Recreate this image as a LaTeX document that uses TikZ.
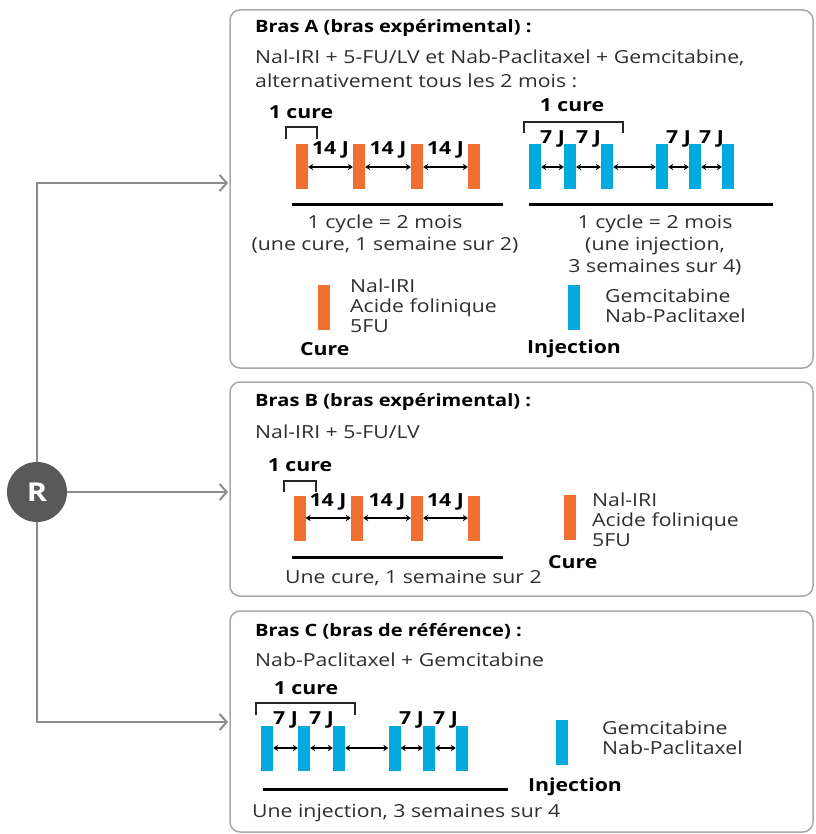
\documentclass[tikz,border=0pt]{standalone}
\usepackage{fontspec}
\setmainfont{Open Sans}[FakeStretch=1.18]
\usetikzlibrary{arrows.meta}
\definecolor{cureor}{HTML}{EF7030}
\definecolor{injbl}{HTML}{00A9DE}
\definecolor{boxgr}{HTML}{A8A8A8}
\definecolor{lingr}{HTML}{8C8C8C}
\definecolor{txtgr}{HTML}{2E2E2E}
\definecolor{rgr}{HTML}{595959}
\tikzset{
  bold/.style={text=black, font=\fontsize{18}{22}\selectfont\bfseries},
  armtitle/.style={bold, anchor=west, font=\fontsize{17}{22}\selectfont\bfseries},
  curebar/.style={fill=cureor, minimum width=12pt, minimum height=45pt},
  injbar/.style={fill=injbl, minimum width=12pt, minimum height=45pt},
  gap/.style={{Stealth[length=5pt,width=6.5pt]}-{Stealth[length=5pt,width=6.5pt]}, line width=1.6pt, black},
  bracket/.style={line width=1.6pt, black!85},
  cycleline/.style={line width=3pt, black},
  armbox/.style={draw=boxgr, line width=1.5pt, rounded corners=10pt},
  branch/.style={draw=lingr, line width=2pt, -{Straight Barb[length=7pt,width=16pt]}},
  legend/.style={align=left, anchor=west, font=\fontsize{18}{20}\selectfont}
}
\begin{document}
\begin{tikzpicture}[x=1pt,y=1pt]
\tikzstyle{every node}+=[inner sep=0pt, text=txtgr, font=\fontsize{18}{22}\selectfont]
\useasboundingbox (0,0) rectangle (815,-834);
% boxes
\draw [armbox] (230,-10) rectangle (813,-368);
\draw [armbox] (230,-382) rectangle (813,-596);
\draw [armbox] (230,-611) rectangle (813,-832);
% randomisation
\node [circle, fill=rgr, minimum size=60pt, text=white, font=\fontsize{26}{26}\selectfont\bfseries] (R) at (37,-492) {R};
\coordinate (toA) at (228,-183);
\coordinate (toB) at (228,-492);
\coordinate (toC) at (228,-722);
\draw [branch] (R.north) |- (toA);
\draw [branch] (R.east) -- (toB);
\draw [branch] (R.south) |- (toC);
% bras A
\node [armtitle] (titA) at (255,-28) {Bras A (bras expérimental) :};
\node [anchor=west] (subA1) at (255,-58) {Nal-IRI + 5-FU/LV et Nab-Paclitaxel + Gemcitabine,};
\node [anchor=west] (subA2) at (255,-81) {alternativement tous les 2 mois :};
\node [bold] (cureA1) at (301,-112) {1 cure};
\draw [bracket] (286,-139) -- (286,-127) -- (317,-127) -- (317,-139);
\node [curebar] (a1) at (302,-167) {};
\node [curebar] (a2) at (359,-167) {};
\node [curebar] (a3) at (417,-167) {};
\node [curebar] (a4) at (474,-167) {};
\draw [gap] (a1) -- (a2);
\draw [gap] (a2) -- (a3);
\draw [gap] (a3) -- (a4);
\node [bold] (ja1) at (330.5,-150) {14 J};
\node [bold] (ja2) at (388,-150) {14 J};
\node [bold] (ja3) at (445.5,-150) {14 J};
\draw [cycleline] (292,-205) -- (503,-205);
\node [align=center] (cycA1) at (385,-234) {1 cycle = 2 mois\\(une cure, 1 semaine sur 2)};
\node [bold] (cureA2) at (572,-105) {1 cure};
\draw [bracket] (524,-133) -- (524,-122) -- (623,-122) -- (623,-133);
\node [injbar] (b1) at (535,-167) {};
\node [injbar] (b2) at (570,-167) {};
\node [injbar] (b3) at (607,-167) {};
\node [injbar] (b4) at (662,-167) {};
\node [injbar] (b5) at (695,-167) {};
\node [injbar] (b6) at (728,-167) {};
\draw [gap] (b1) -- (b2);
\draw [gap] (b2) -- (b3);
\draw [gap] (b3) -- (b4);
\draw [gap] (b4) -- (b5);
\draw [gap] (b5) -- (b6);
\node [bold] (jb1) at (552.5,-139) {7 J};
\node [bold] (jb2) at (588.5,-139) {7 J};
\node [bold] (jb3) at (678.5,-139) {7 J};
\node [bold] (jb4) at (711.5,-139) {7 J};
\draw [cycleline] (529,-205) -- (773,-205);
\node [align=center] (cycA2) at (655,-245) {1 cycle = 2 mois\\(une injection,\\3 semaines sur 4)};
% legende A
\node [curebar] (lca) at (324,-307) {};
\node [legend] (lta) at (350,-306) {Nal-IRI\\Acide folinique\\5FU};
\node [bold, anchor=west] (lka) at (300,-349) {Cure};
\node [injbar] (lia) at (574,-307) {};
\node [legend] (ltb) at (605,-306) {Gemcitabine\\Nab-Paclitaxel};
\node [bold, anchor=west] (lkb) at (527,-349) {Injection};
% bras B
\node [armtitle] (titB) at (255,-402) {Bras B (bras expérimental) :};
\node [anchor=west] (subB) at (255,-432) {Nal-IRI + 5-FU/LV};
\node [bold] (cureB) at (300,-465) {1 cure};
\draw [bracket] (284,-492) -- (284,-481) -- (316,-481) -- (316,-492);
\node [curebar] (c1) at (299.5,-518) {};
\node [curebar] (c2) at (357,-518) {};
\node [curebar] (c3) at (417,-518) {};
\node [curebar] (c4) at (474,-518) {};
\draw [gap] (c1) -- (c2);
\draw [gap] (c2) -- (c3);
\draw [gap] (c3) -- (c4);
\node [bold] (jc1) at (328,-502) {14 J};
\node [bold] (jc2) at (387,-502) {14 J};
\node [bold] (jc3) at (445.5,-502) {14 J};
\draw [cycleline] (292,-557) -- (503,-557);
\node [anchor=west] (cycB) at (285,-578) {Une cure, 1 semaine sur 2};
\node [curebar] (lcb) at (570,-517) {};
\node [legend] (ltc) at (592,-520) {Nal-IRI\\Acide folinique\\5FU};
\node [bold, anchor=west] (lkc) at (548,-562) {Cure};
% bras C
\node [armtitle] (titC) at (255,-631) {Bras C (bras de référence) :};
\node [anchor=west] (subC) at (255,-660) {Nab-Paclitaxel + Gemcitabine};
\node [bold] (cureC) at (306,-688) {1 cure};
\draw [bracket] (256,-715) -- (256,-703) -- (355,-703) -- (355,-715);
\node [injbar] (d1) at (267,-748) {};
\node [injbar] (d2) at (304,-748) {};
\node [injbar] (d3) at (339,-748) {};
\node [injbar] (d4) at (394.5,-748) {};
\node [injbar] (d5) at (429,-748) {};
\node [injbar] (d6) at (462,-748) {};
\draw [gap] (d1) -- (d2);
\draw [gap] (d2) -- (d3);
\draw [gap] (d3) -- (d4);
\draw [gap] (d4) -- (d5);
\draw [gap] (d5) -- (d6);
\node [bold] (jd1) at (285.5,-720) {7 J};
\node [bold] (jd2) at (321.5,-720) {7 J};
\node [bold] (jd3) at (411.5,-720) {7 J};
\node [bold] (jd4) at (445.5,-720) {7 J};
\draw [cycleline] (263,-789) -- (508,-789);
\node [anchor=west] (cycC) at (252,-813) {Une injection, 3 semaines sur 4};
\node [injbar] (ldc) at (562,-742) {};
\node [legend] (ltd) at (602,-738) {Gemcitabine\\Nab-Paclitaxel};
\node [bold, anchor=west] (lkd) at (528,-787) {Injection};
\end{tikzpicture}
\end{document}
